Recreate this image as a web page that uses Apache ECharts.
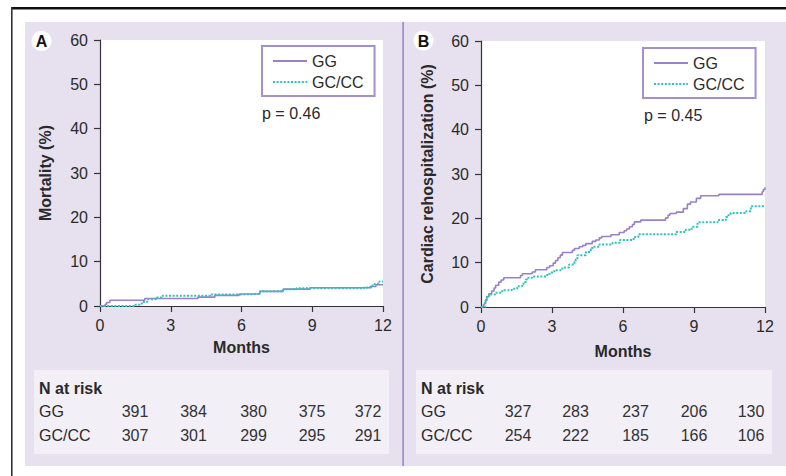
<!DOCTYPE html>
<html>
<head>
<meta charset="utf-8">
<script src="https://cdn.jsdelivr.net/npm/echarts@6/dist/echarts.min.js"></script>
<style>html,body{margin:0;padding:0;background:#fff;}#c{width:786px;height:476px;}</style>
</head>
<body>
<div id="c"></div>
<script>
// ---- data ----
const monthTicks = [0, 3, 6, 9, 12];
const seriesNames = ['GG', 'GC/CC'];

// Panel A: mortality (%) — [month, cumulative %]
const mortalityGG = [[0,0],[0.17,0],[0.22,0.4],[0.28,0.8],[0.42,1.3],[1.9,1.7],[4.15,2.0],[4.87,2.4],[5.9,2.7],[6.78,3.3],[7.77,3.8],[8.9,4.1],[11.45,4.4],[11.7,4.8],[12,4.8]];
const mortalityGCCC = [[0,0],[1.34,0],[1.5,0.3],[1.77,0.9],[2.0,1.5],[2.4,1.9],[2.6,2.3],[4.66,2.6],[5.9,2.7],[6.78,3.3],[7.77,3.8],[8.33,4.0],[11.2,4.2],[11.5,4.6],[11.65,5.0],[11.85,5.5],[12,5.5]];

// Panel B: cardiac rehospitalization (%)
const rehospGG = [[0,0],[0.05,0],[0.1,0.5],[0.15,1.0],[0.2,1.6],[0.25,2.3],[0.33,3.0],[0.45,3.6],[0.55,4.3],[0.62,4.9],[0.75,5.6],[0.85,6.1],[0.96,6.6],[1.67,7.1],[1.75,7.5],[2.16,7.9],[2.3,8.4],[2.78,8.9],[2.9,9.3],[3.05,9.9],[3.15,10.5],[3.25,11.1],[3.35,11.7],[3.44,12.3],[3.86,12.8],[3.95,13.2],[4.15,13.6],[4.3,13.9],[4.43,14.3],[4.7,14.8],[4.85,15.1],[5.0,15.6],[5.1,15.9],[5.49,16.3],[5.84,16.8],[6.05,17.2],[6.15,17.6],[6.27,18.1],[6.4,18.6],[6.48,19.2],[6.75,19.6],[7.8,20.1],[7.9,20.7],[7.98,21.1],[8.25,21.4],[8.55,22.2],[8.72,23.2],[8.85,23.7],[9.1,24.5],[9.28,25.1],[10.05,25.4],[11.88,26.0],[11.93,26.5],[12.0,27.0]];
const rehospGCCC = [[0,0],[0.1,0],[0.18,1.5],[0.25,2.3],[0.33,2.8],[0.6,3.2],[0.9,3.8],[1.3,4.1],[1.53,4.7],[1.74,5.2],[1.8,5.65],[1.9,6.2],[1.95,6.6],[2.16,6.9],[2.8,7.5],[3.0,8.0],[3.1,8.3],[3.44,8.9],[3.72,9.6],[3.95,10.2],[4.0,10.7],[4.07,11.7],[4.43,12.4],[4.64,13.0],[4.7,13.6],[5.0,14.1],[5.56,14.5],[5.87,15.1],[6.45,15.8],[6.65,16.4],[8.25,16.9],[8.65,17.4],[8.9,18.1],[9.15,19.1],[10.0,19.6],[10.35,20.3],[10.45,20.7],[10.55,21.2],[11.2,21.6],[11.4,22.7],[12,22.8]];

// N at risk tables
const riskA_GG = [391, 384, 380, 375, 372];
const riskA_GCCC = [307, 301, 299, 295, 291];
const riskB_GG = [327, 283, 237, 206, 130];
const riskB_GCCC = [254, 222, 185, 166, 106];

const pA = 'p = 0.46';
const pB = 'p = 0.45';

// ---- styling ----
const FONT = '"Liberation Sans", Arial, Helvetica, sans-serif';
const FS = 16;
const PURPLE = '#9a80c5';
const TEAL = '#2fc3bf';
const TXT = '#2a2a2a';

function xAxisDef(gridIndex, nameGap) {
  return {
    type: 'value', gridIndex: gridIndex, min: 0, max: 12, interval: 3,
    name: 'Months', nameLocation: 'middle', nameGap: nameGap,
    nameTextStyle: { fontFamily: FONT, fontSize: FS, fontWeight: 'bold', color: TXT },
    axisLine: { show: true, lineStyle: { color: '#333', width: 1.2 } },
    axisTick: { show: true, length: 6, lineStyle: { color: '#333', width: 1.2 } },
    axisLabel: { margin: 11, fontFamily: FONT, fontSize: FS, color: TXT,
      formatter: function (v) { return monthTicks.indexOf(v) >= 0 ? String(v) : ''; } },
    splitLine: { show: false }
  };
}
function yAxisDef(gridIndex, name, nameGap) {
  return {
    type: 'value', gridIndex: gridIndex, min: 0, max: 60, interval: 10,
    name: name, nameLocation: 'middle', nameGap: nameGap, nameRotate: 90,
    nameTextStyle: { fontFamily: FONT, fontSize: FS, fontWeight: 'bold', color: TXT },
    axisLine: { show: true, lineStyle: { color: '#333', width: 1.2 } },
    axisTick: { show: true, length: 6, lineStyle: { color: '#333', width: 1.2 } },
    axisLabel: { margin: 12, fontFamily: FONT, fontSize: FS, color: TXT },
    splitLine: { show: false }
  };
}
function lineSeries(name, data, idx, dotted) {
  return {
    name: name, type: 'line', xAxisIndex: idx, yAxisIndex: idx, data: data,
    step: 'end', symbol: 'none', showSymbol: false, silent: true, animation: false,
    z: dotted ? 3 : 2,
    lineStyle: dotted ? { color: TEAL, width: 2, type: [2, 1.6] } : { color: PURPLE, width: 1.6 },
    itemStyle: { color: dotted ? TEAL : PURPLE }
  };
}
function legendDef(left, top) {
  return {
    data: seriesNames, orient: 'vertical', left: left, top: top,
    backgroundColor: '#fff', borderColor: '#a690cc', borderWidth: 2,
    padding: [7, 11, 6, 10], itemGap: 5, itemWidth: 34, itemHeight: 14,
    selectedMode: false,
    itemStyle: { opacity: 0, color: 'rgba(0,0,0,0)', borderWidth: 0 },
    textStyle: { fontFamily: FONT, fontSize: FS, color: TXT }
  };
}
function tableTexts(x0, colX, rowGG, rowGC) {
  const els = [];
  const ys = [388, 411.5, 435];
  els.push({ type: 'text', x: x0, y: ys[0], z: 100, style: { text: 'N at risk', font: 'bold ' + FS + 'px ' + FONT, fill: TXT, verticalAlign: 'middle' } });
  els.push({ type: 'text', x: x0, y: ys[1], z: 100, style: { text: seriesNames[0], font: FS + 'px ' + FONT, fill: TXT, verticalAlign: 'middle' } });
  els.push({ type: 'text', x: x0, y: ys[2], z: 100, style: { text: seriesNames[1], font: FS + 'px ' + FONT, fill: TXT, verticalAlign: 'middle' } });
  for (let i = 0; i < colX.length; i++) {
    els.push({ type: 'text', x: colX[i], y: ys[1], z: 100, style: { text: String(rowGG[i]), font: FS + 'px ' + FONT, fill: '#333', align: 'center', verticalAlign: 'middle' } });
    els.push({ type: 'text', x: colX[i], y: ys[2], z: 100, style: { text: String(rowGC[i]), font: FS + 'px ' + FONT, fill: '#333', align: 'center', verticalAlign: 'middle' } });
  }
  return els;
}

const graphics = [
  { type: 'rect', z: -10, shape: { x: 25, y: 22, width: 761, height: 444 }, style: { fill: '#e7e1ef' } },
  { type: 'rect', z: -9, shape: { x: 11, y: 7, width: 775, height: 2.5 }, style: { fill: '#111' } },
  { type: 'rect', z: -9, shape: { x: 11, y: 7, width: 1.6, height: 469 }, style: { fill: '#333' } },
  { type: 'rect', z: -9, shape: { x: 402.3, y: 22, width: 1.6, height: 444 }, style: { fill: '#9a86c5' } },
  { type: 'rect', z: -9, shape: { x: 34, y: 370, width: 355, height: 84 }, style: { fill: '#f2eff7' } },
  { type: 'rect', z: -9, shape: { x: 416, y: 370, width: 356, height: 84 }, style: { fill: '#f2eff7' } },
  { type: 'circle', z: 100, shape: { cx: 41.5, cy: 41, r: 10 }, style: { fill: '#fff' } },
  { type: 'text', z: 101, x: 41.5, y: 41.5, style: { text: 'A', font: 'bold ' + FS + 'px ' + FONT, fill: '#111', align: 'center', verticalAlign: 'middle' } },
  { type: 'circle', z: 100, shape: { cx: 423.5, cy: 40.5, r: 10 }, style: { fill: '#fff' } },
  { type: 'text', z: 101, x: 423.5, y: 41, style: { text: 'B', font: 'bold ' + FS + 'px ' + FONT, fill: '#111', align: 'center', verticalAlign: 'middle' } },
  { type: 'text', z: 100, x: 262, y: 113, style: { text: pA, font: FS + 'px ' + FONT, fill: TXT, verticalAlign: 'middle' } },
  { type: 'text', z: 100, x: 644, y: 115, style: { text: pB, font: FS + 'px ' + FONT, fill: TXT, verticalAlign: 'middle' } }
].concat(
  tableTexts(39, [135, 193.5, 253.5, 312, 368], riskA_GG, riskA_GCCC),
  tableTexts(421, [518, 575.5, 635.5, 694, 751], riskB_GG, riskB_GCCC)
);

const chart = echarts.init(document.getElementById('c'), null, { renderer: 'svg' });
chart.setOption({
  animation: false,
  backgroundColor: '#fff',
  textStyle: { fontFamily: FONT },
  grid: [
    { left: 100, top: 40, width: 283, height: 266, show: true, backgroundColor: '#fff', borderWidth: 0, containLabel: false },
    { left: 481, top: 41, width: 284, height: 266, show: true, backgroundColor: '#fff', borderWidth: 0, containLabel: false }
  ],
  xAxis: [xAxisDef(0, 33), xAxisDef(1, 36)],
  yAxis: [yAxisDef(0, 'Mortality (%)', 47), yAxisDef(1, 'Cardiac rehospitalization (%)', 46)],
  legend: [legendDef(262, 46), legendDef(643, 48)],
  series: [
    lineSeries(seriesNames[0], mortalityGG, 0, false),
    lineSeries(seriesNames[1], mortalityGCCC, 0, true),
    lineSeries(seriesNames[0], rehospGG, 1, false),
    lineSeries(seriesNames[1], rehospGCCC, 1, true)
  ],
  graphic: graphics
});
</script>
</body>
</html>
